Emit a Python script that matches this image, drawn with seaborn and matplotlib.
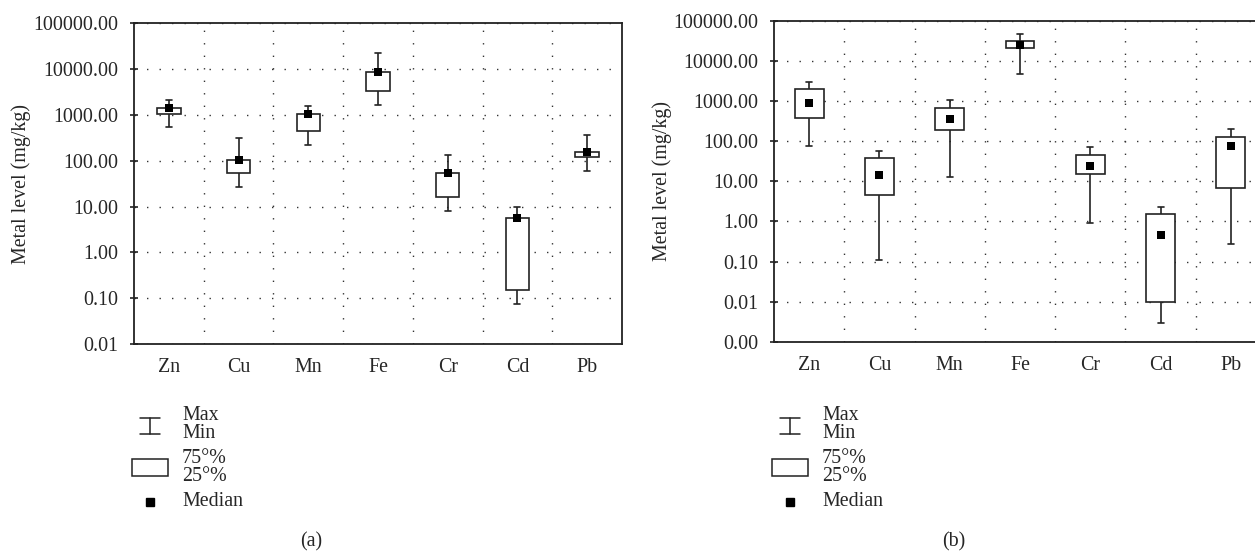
import numpy as np
import pandas as pd
import seaborn as sns
import matplotlib
matplotlib.use('Agg')
from matplotlib import pyplot as plt
from matplotlib.ticker import FixedLocator, FuncFormatter, NullLocator
from matplotlib.lines import Line2D
from matplotlib.patches import Rectangle

# categorias
metais = ['Zn', 'Cu', 'Mn', 'Fe', 'Cr', 'Cd', 'Pb']

# painel (a) - min, 25%, mediana, 75%, max (mg/kg)
min_a = [545, 27, 220, 1620, 8.1, 0.074, 60]
q1_a = [1070, 54, 445, 3300, 16.2, 0.148, 118]
med_a = [1390, 102, 1070, 8500, 54, 5.6, 158]
q3_a = [1390, 102, 1070, 8500, 54, 5.6, 158]
max_a = [2090, 309, 1560, 22500, 135, 9.6, 370]

# painel (b)
min_b = [76, 0.108, 12.8, 4800, 0.89, 0.003, 0.27]
q1_b = [385, 4.65, 193, 21000, 15, 0.01, 6.8]
med_b = [880, 14, 350, 24500, 24, 0.47, 75]
q3_b = [1960, 39, 695, 32000, 46, 1.5, 131]
max_b = [3000, 57, 1040, 48000, 71, 2.24, 200]

ticks_a = [0.01, 0.1, 1, 10, 100, 1000, 10000, 100000]
ticks_b = [0.001, 0.01, 0.1, 1, 10, 100, 1000, 10000, 100000]

ylabel = 'Metal level (mg/kg)'
legenda = [('Max', 'Min'), ('75°%', '25°%'), ('Median',)]


def monta(mins, q1s, meds, q3s, maxs):
    linhas = []
    for i, m in enumerate(metais):
        for v in (mins[i], q1s[i], meds[i], q3s[i], maxs[i]):
            linhas.append({'metal': m, 'valor': v})
    return pd.DataFrame(linhas)


sns.set_style('white')
plt.rcParams['font.family'] = ['Liberation Serif', 'DejaVu Serif']
plt.rcParams['font.size'] = 14.4

W, H = 1255, 554
fig = plt.figure(figsize=(W / 100, H / 100), dpi=100)

cor = '#222222'
fs = 14.4


def px(x, y):
    return x / W, 1 - y / H


def painel(rect, df, meds, ticks, largura, ylim, ylabel_x):
    ax = fig.add_axes(rect)
    sns.boxplot(data=df, x='metal', y='valor', order=metais, whis=(0, 100),
                width=largura, log_scale=True, color='white', saturation=1,
                linecolor=cor, linewidth=1.2, showfliers=False,
                medianprops=dict(linewidth=0), capwidths=0.085, ax=ax)
    sns.stripplot(x=metais, y=meds, order=metais, jitter=False, marker='s',
                  size=5.3, color='black', linewidth=0, ax=ax, zorder=5)
    ax.set_yscale('log')
    ax.set_ylim(*ylim)
    ax.set_xlim(-0.5, 6.5)
    ax.yaxis.set_major_locator(FixedLocator(ticks))
    ax.yaxis.set_major_formatter(FuncFormatter(lambda v, p: f'{v:.2f}'))
    ax.yaxis.set_minor_locator(NullLocator())
    ax.set_xticks(range(len(metais)))
    ax.set_xticklabels(metais)
    ax.set_xticks([i + 0.5 for i in range(len(metais) - 1)], minor=True)
    ax.tick_params(axis='x', which='both', length=0, pad=10, labelsize=fs)
    ax.tick_params(axis='y', which='major', direction='inout', length=6,
                   width=1.2, color=cor, pad=8.5, left=True, labelsize=fs)
    ax.grid(True, which='major', axis='y', color='#333333',
            linestyle=(0, (1, 8)), linewidth=1.0)
    ax.grid(True, which='minor', axis='x', color='#333333',
            linestyle=(0, (1, 8)), linewidth=1.0)
    ax.set_axisbelow(True)
    for s in ax.spines.values():
        s.set_color(cor)
        s.set_linewidth(1.3)
    ax.set_xlabel('')
    ax.set_ylabel(ylabel, fontsize=fs)
    ax.yaxis.set_label_coords(ylabel_x, 0.5)
    return ax


df_a = monta(min_a, q1_a, med_a, q3_a, max_a)
df_b = monta(min_b, q1_b, med_b, q3_b, max_b)

ax_a = painel([134 / W, 1 - 344 / H, 488 / W, (344 - 23.3) / H], df_a, med_a,
              ticks_a, 0.335, (0.01, 100000), -0.211)
ax_b = painel([774 / W, 1 - 341.7 / H, 492 / W, (341.7 - 21) / H], df_b, med_b,
              ticks_b, 0.41, (0.001, 100000), -0.207)


# legenda desenhada abaixo de cada painel
def desenha_legenda(x0):
    xc = x0 + 150
    xt = x0 + 182
    # Max / Min
    fig.add_artist(Line2D([px(xc, 0)[0]] * 2, [px(0, 417.5)[1], px(0, 434)[1]],
                          color=cor, lw=1.1))
    for yy in (417.5, 434):
        fig.add_artist(Line2D([px(xc - 10, 0)[0], px(xc + 10, 0)[0]],
                              [px(0, yy)[1]] * 2, color=cor, lw=1.1))
    fig.text(*px(xt, 415.5), legenda[0][0], va='center', ha='left', fontsize=fs)
    fig.text(*px(xt, 433), legenda[0][1], va='center', ha='left', fontsize=fs)
    # caixa
    x1, y1 = px(x0 + 132.3, 476)
    x2, y2 = px(x0 + 167.7, 458.7)
    fig.add_artist(Rectangle((x1, y1), x2 - x1, y2 - y1, transform=fig.transFigure,
                             facecolor='white', edgecolor=cor, lw=1.1))
    fig.text(*px(xt, 458.5), legenda[1][0], va='center', ha='left', fontsize=fs)
    fig.text(*px(xt, 476.5), legenda[1][1], va='center', ha='left', fontsize=fs)
    # mediana
    fig.add_artist(Line2D([px(xc, 0)[0]], [px(0, 502.3)[1]], marker='s',
                          markersize=5.3, color='black', lw=0))
    fig.text(*px(xt, 502), legenda[2][0], va='center', ha='left', fontsize=fs)


desenha_legenda(0)
desenha_legenda(640)

fig.text(*px(311, 542), '(a)', ha='center', va='center', fontsize=fs)
fig.text(*px(954, 542), '(b)', ha='center', va='center', fontsize=fs)

fig.savefig('out.png', dpi=100)
